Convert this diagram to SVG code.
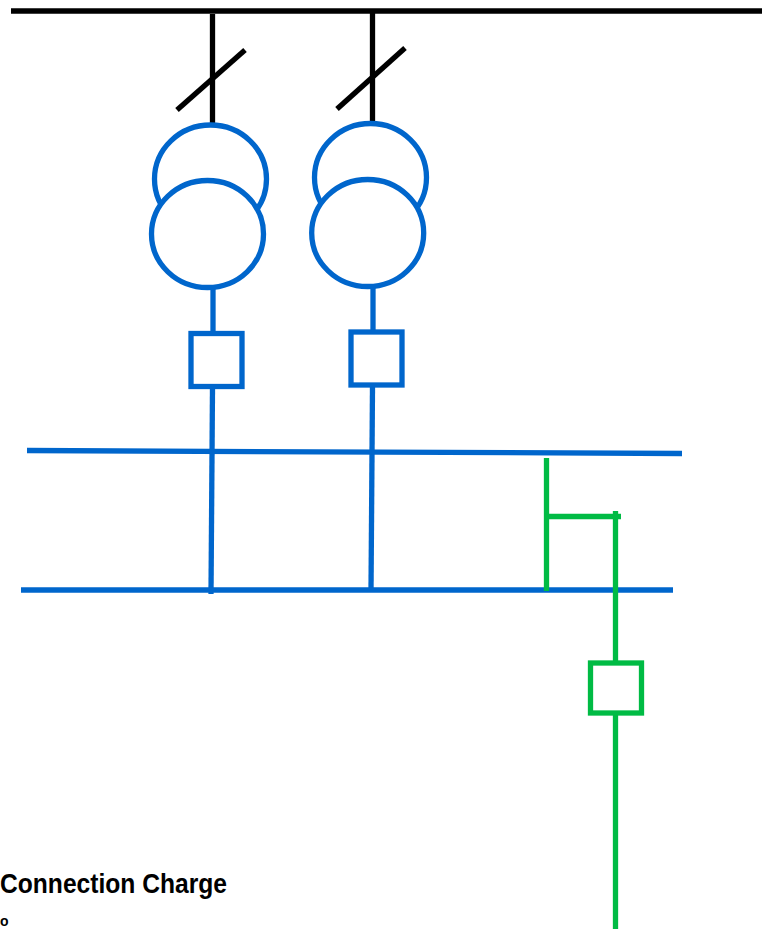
<svg xmlns="http://www.w3.org/2000/svg" width="762" height="929" viewBox="0 0 762 929">
<style>
.k{stroke:#000;stroke-width:5.300;fill:none}
.b{stroke:#0066cc;stroke-width:5.300;fill:none}
.bf{stroke:#0066cc;stroke-width:5.300;fill:#fff}
.g{stroke:#00bb44;stroke-width:5.300;fill:none}
.t{font-family:"Liberation Sans",Arial,sans-serif;font-weight:bold;fill:#000}
</style>
<rect width="762" height="929" fill="#fff"/>
<g id="connectors">
<line class="k" x1="11" y1="11" x2="762" y2="11"/>
<line class="k" x1="212.500" y1="14" x2="212.500" y2="124"/>
<line class="k" x1="177" y1="110" x2="245" y2="50"/>
<line class="k" x1="372.500" y1="11" x2="372.500" y2="122"/>
<line class="k" x1="337" y1="109" x2="405" y2="48"/>
<line class="b" x1="213" y1="288" x2="213" y2="333"/>
<line class="b" x1="212.500" y1="387" x2="211" y2="594"/>
<line class="b" x1="373" y1="286" x2="373" y2="331"/>
<line class="b" x1="372.500" y1="386" x2="371" y2="592"/>
<line class="b" x1="27" y1="450.500" x2="682" y2="453.500"/>
<line class="b" x1="21" y1="590" x2="673" y2="590"/>
<line class="g" x1="546.500" y1="458" x2="546.500" y2="591"/>
<line class="g" x1="546" y1="516.500" x2="621" y2="516.500"/>
<line class="g" x1="615.500" y1="511" x2="615.500" y2="661"/>
<line class="g" x1="615.500" y1="715" x2="615.500" y2="929"/>
</g>
<g id="transformer-1">
<ellipse class="b" cx="210.500" cy="179" rx="56" ry="54"/>
<ellipse class="bf" cx="207.500" cy="234" rx="56" ry="53.500"/>
</g>
<g id="transformer-2">
<ellipse class="b" cx="370.500" cy="177.500" rx="56" ry="54"/>
<ellipse class="bf" cx="367.700" cy="233" rx="56" ry="53.500"/>
</g>
<g id="breaker-1"><rect class="b" x="191" y="333.500" width="51" height="53"/></g>
<g id="breaker-2"><rect class="b" x="351" y="332" width="51" height="53"/></g>
<g id="breaker-3"><rect class="g" x="590.500" y="663" width="51" height="50"/></g>
<g id="label">
<text class="t" x="0" y="893" font-size="28" textLength="227" lengthAdjust="spacingAndGlyphs">Connection Charge</text>
<text class="t" x="0" y="926" font-size="14">o</text>
</g>
</svg>
